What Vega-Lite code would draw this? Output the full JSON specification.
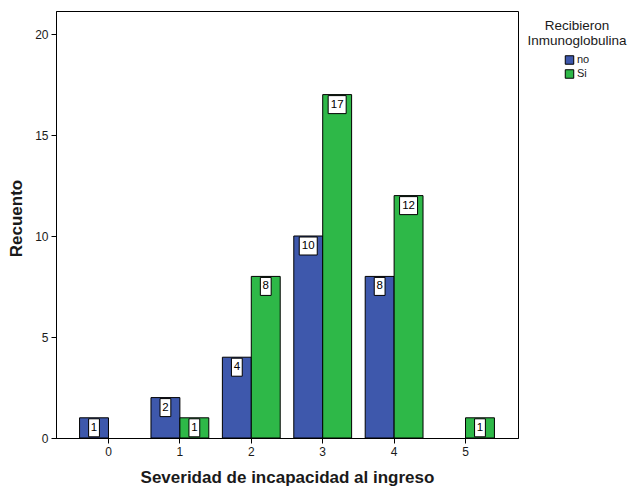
{
  "$schema": "https://vega.github.io/schema/vega-lite/v6.json",
  "autosize": "none",
  "width": 462,
  "height": 427,
  "padding": {"left": 56, "top": 11, "right": 113, "bottom": 49},
  "background": "white",
  "data": {
    "values": [
      {"severidad": 0, "grupo": "no", "recuento": 1},
      {"severidad": 1, "grupo": "no", "recuento": 2},
      {"severidad": 1, "grupo": "Si", "recuento": 1},
      {"severidad": 2, "grupo": "no", "recuento": 4},
      {"severidad": 2, "grupo": "Si", "recuento": 8},
      {"severidad": 3, "grupo": "no", "recuento": 10},
      {"severidad": 3, "grupo": "Si", "recuento": 17},
      {"severidad": 4, "grupo": "no", "recuento": 8},
      {"severidad": 4, "grupo": "Si", "recuento": 12},
      {"severidad": 5, "grupo": "Si", "recuento": 1}
    ]
  },
  "encoding": {
    "x": {
      "field": "severidad",
      "type": "ordinal",
      "scale": {"domain": [0, 1, 2, 3, 4, 5], "paddingInner": 0.19, "paddingOuter": 0.33},
      "axis": {
        "title": "Severidad de incapacidad al ingreso",
        "labelAngle": 0,
        "titlePadding": 12
      }
    },
    "xOffset": {"field": "grupo", "type": "nominal", "scale": {"domain": ["no", "Si"]}},
    "y": {
      "field": "recuento",
      "type": "quantitative",
      "scale": {"domain": [0, 21.14], "nice": false, "zero": true},
      "axis": {"title": "Recuento", "values": [0, 5, 10, 15, 20], "titleX": -31, "titleY": 207}
    }
  },
  "layer": [
    {
      "mark": {"type": "bar", "stroke": "black", "strokeWidth": 1, "opacity": 1},
      "encoding": {
        "color": {
          "field": "grupo",
          "type": "nominal",
          "scale": {"domain": ["no", "Si"], "range": ["#3E58AC", "#2EB848"]},
          "legend": {
            "title": ["Recibieron", "Inmunoglobulina"],
            "orient": "none",
            "legendX": 471,
            "legendY": 8
          }
        }
      }
    },
    {
      "transform": [{"filter": "datum.recuento < 10"}],
      "mark": {
        "type": "point",
        "shape": "M-0.6,-1H0.6V1H-0.6Z",
        "size": 324,
        "filled": true,
        "fill": "white",
        "stroke": "black",
        "strokeWidth": 1,
        "opacity": 1,
        "yOffset": 10
      }
    },
    {
      "transform": [{"filter": "datum.recuento >= 10"}],
      "mark": {
        "type": "point",
        "shape": "M-1,-1H1V1H-1Z",
        "size": 324,
        "filled": true,
        "fill": "white",
        "stroke": "black",
        "strokeWidth": 1,
        "opacity": 1,
        "yOffset": 10
      }
    },
    {
      "mark": {
        "type": "text",
        "font": "Liberation Sans",
        "fontSize": 11.5,
        "color": "black",
        "baseline": "middle",
        "align": "center",
        "yOffset": 10
      },
      "encoding": {"text": {"field": "recuento", "type": "quantitative"}}
    }
  ],
  "config": {
    "font": "Liberation Sans",
    "view": {"stroke": "black", "strokeWidth": 1},
    "axis": {
      "grid": false,
      "domainColor": "black",
      "tickColor": "black",
      "tickSize": 5,
      "labelFont": "Liberation Sans",
      "labelFontSize": 12,
      "labelColor": "#1a1a1a",
      "labelPadding": 3,
      "titleFont": "Liberation Sans",
      "titleFontSize": 17,
      "titleFontWeight": "bold",
      "titleColor": "#1a1a1a"
    },
    "legend": {
      "titleFont": "Liberation Sans",
      "titleFontSize": 13.5,
      "titleFontWeight": "normal",
      "titleColor": "#1a1a1a",
      "titleAnchor": "middle",
      "titleAlign": "center",
      "titleLineHeight": 15,
      "titlePadding": 7,
      "labelFont": "Liberation Sans",
      "labelFontSize": 11,
      "labelColor": "#1a1a1a",
      "labelOffset": 2,
      "symbolType": "square",
      "symbolSize": 72,
      "symbolStrokeColor": "black",
      "symbolStrokeWidth": 1,
      "rowPadding": 1
    }
  }
}
